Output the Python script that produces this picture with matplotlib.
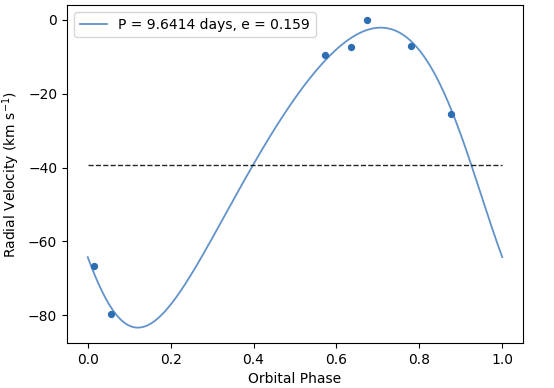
import numpy as np
import matplotlib
matplotlib.use("Agg")
import matplotlib.pyplot as plt

# Observed data
phase_obs = [0.016, 0.057, 0.573, 0.635, 0.673, 0.780, 0.877]
rv_obs = [-66.8, -79.7, -9.5, -7.3, -0.1, -7.0, -25.5]

# Orbital solution parameters
period = 9.6414
ecc = 0.159
omega_deg = 122.0
K_amp = 40.65
gamma = -39.3

def kepler_rv(phase):
    M = 2 * np.pi * phase
    E = M.copy()
    for _ in range(50):
        E = E - (E - ecc * np.sin(E) - M) / (1 - ecc * np.cos(E))
    nu = 2 * np.arctan2(np.sqrt(1 + ecc) * np.sin(E / 2), np.sqrt(1 - ecc) * np.cos(E / 2))
    w = np.deg2rad(omega_deg)
    return gamma + K_amp * (np.cos(nu + w) + ecc * np.cos(w))

phase_model = np.linspace(0, 1, 500)
rv_model = kepler_rv(phase_model)

W, H = 554, 388
fig = plt.figure(figsize=(W / 100, H / 100), dpi=100)
ax = fig.add_axes([67 / W, 1 - 343 / H, (523 - 67) / W, (343 - 5) / H])

ax.plot(phase_model, rv_model, color='#3a78bd', alpha=0.8, lw=1.3,
        label=f'P = {period} days, e = {ecc}')
ax.scatter(phase_obs, rv_obs, color='#2e6fb4', s=18, zorder=3)
ax.plot([0, 1], [gamma, gamma], 'k--', lw=1.0, alpha=0.85)

ax.set_xlabel('Orbital Phase')
ax.set_ylabel(r'Radial Velocity (km s$^{-1}$)')
ax.set_xticks([0.0, 0.2, 0.4, 0.6, 0.8, 1.0])
ax.set_yticks([0, -20, -40, -60, -80])
ax.legend(loc='upper left')

fig.savefig('out.png', dpi=100)
